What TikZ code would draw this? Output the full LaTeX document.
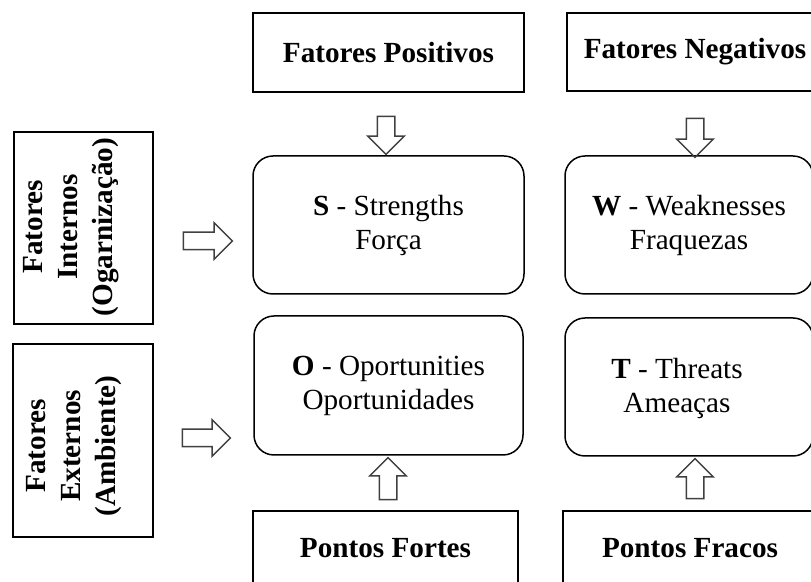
\documentclass[tikz,border=0pt]{standalone}
\usepackage{fontspec}
\setmainfont{Liberation Serif}
\usetikzlibrary{shapes, shapes.arrows, positioning}

\begin{document}
\begin{tikzpicture}[
    x = 0.5pt, y = -0.5pt,
    every node/.style = {font=\fontsize{14.6}{17}\selectfont},
    sqbox/.style = {draw, line width=0.75pt, inner sep=0pt, align=center,
        font=\fontsize{14.6}{17}\selectfont\bfseries},
    rbox/.style = {draw, line width=0.75pt, rounded corners=10pt,
        inner sep=0pt, align=center},
    sidetxt/.style = {rotate=90, align=center, inner sep=0pt,
        font=\fontsize{14.6}{17.5}\selectfont\bfseries},
    hollow/.style = {single arrow, draw=black!75, line width=0.75pt,
        inner xsep=0pt, inner ysep=4pt, single arrow head extend=4.75pt}
]

% 0. Canvas of the reference (the right column runs off the edge)
\path[use as bounding box] (0,0) rectangle (811,582);
\clip (0,0) rectangle (811,582);

% 1. Column headers and footers
\node[sqbox, minimum width=135.5pt, minimum height=39.5pt] (pos) at (388.5,52.5) {Fatores Positivos};
\node[sqbox, minimum width=128pt, minimum height=39pt] (neg) at (695,52) {Fatores Negativos};
\node[sqbox, minimum width=132.5pt, minimum height=37.5pt] (fortes) at (385.5,548.5) {Pontos Fortes};
\node[sqbox, minimum width=127pt, minimum height=37.5pt] (fracos) at (690,548.5) {Pontos Fracos};

% 2. Row headers (rotated text)
\node[sqbox, minimum width=69.5pt, minimum height=96pt] (intern) at (83.5,228) {};
\node[sidetxt] (internTxt) at (71,227) {Fatores\\Internos\\(Ogarnização)};
\node[sqbox, minimum width=70pt, minimum height=96.5pt] (extern) at (83,440.5) {};
\node[sidetxt] (externTxt) at (74,446) {Fatores\\Externos\\(Ambiente)};

% 3. The four SWOT quadrants
\node[rbox, minimum width=135.5pt, minimum height=69pt] (S) at (388.5,225) {\textbf{S} - Strengths\\Força};
\node[rbox, minimum width=124pt, minimum height=69pt] (W) at (689,225) {\textbf{W} - Weaknesses\\Fraquezas};
\node[rbox, minimum width=134.5pt, minimum height=69.5pt] (O) at (388.5,385.5) {\textbf{O} - Oportunities\\Oportunidades};
\node[rbox, minimum width=124pt, minimum height=69pt] (T) at (689,387) {};
\node[align=center, inner sep=0pt] (Ttxt) at (677,388) {\textbf{T} - Threats\\Ameaças};

% 4. Hollow block arrows between the boxes
\node[hollow, rotate=-90, minimum height=19pt] (aPos) at (386,131) {};
\node[hollow, rotate=-90, minimum height=19.5pt] (aNeg) at (695,133.5) {};
\node[hollow, minimum height=24.5pt] (aIntern) at (203.5,241) {};
\node[hollow, minimum height=24pt] (aExtern) at (202,438) {};
\node[hollow, rotate=90, minimum height=21pt] (aFortes) at (388,483) {};
\node[hollow, rotate=90, minimum height=20pt] (aFracos) at (695,483) {};

\end{tikzpicture}
\end{document}
